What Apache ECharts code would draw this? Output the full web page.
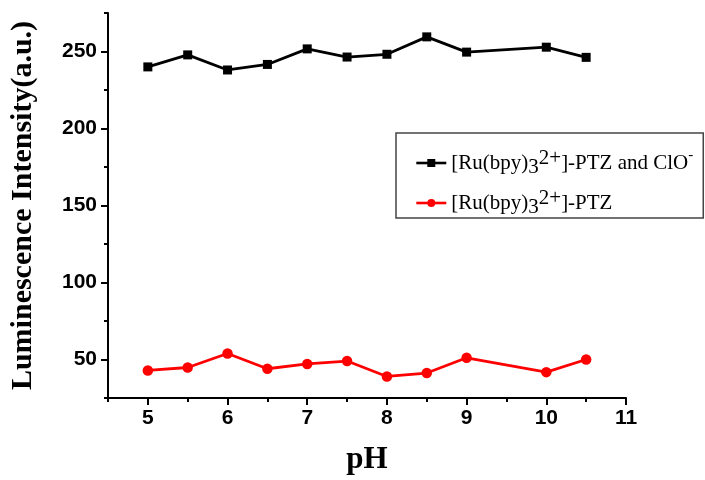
<!DOCTYPE html>
<html>
<head>
<meta charset="utf-8">
<script src="https://cdn.jsdelivr.net/npm/echarts@6/dist/echarts.min.js"></script>
<style>
  html, body { margin: 0; padding: 0; background: #fff; }
  #chart { width: 705px; height: 480px; }
</style>
</head>
<body>
<div id="chart"></div>
<script>
// pH values measured
const phValues = [5, 5.5, 6, 6.5, 7, 7.5, 8, 8.5, 9, 10, 10.5];
// Luminescence intensity with the probe plus hypochlorite
const withClO = [240, 247.8, 238, 241.6, 251.7, 246.4, 248.2, 259.5, 249.6, 252.8, 246.2];
// Luminescence intensity of the probe alone
const probeOnly = [42.9, 44.8, 53.9, 44.0, 47.1, 49.0, 39.0, 41.2, 51.1, 41.8, 50.0];

// Axis ticks
const xMajor = [5, 6, 7, 8, 9, 10, 11];
const xMinor = [4.5, 5.5, 6.5, 7.5, 8.5, 9.5, 10.5];
const yMajor = [50, 100, 150, 200, 250];
const yMinor = [25, 75, 125, 175, 225, 275];

const nameClO = '[Ru(bpy)3 2+]-PTZ and ClO-';
const nameProbe = '[Ru(bpy)3 2+]-PTZ';

const legendLabels = {};
legendLabels[nameClO] = '{n|[Ru(bpy)}{sub|3}{sup|2+}{n|]-PTZ and ClO}{sm|-}';
legendLabels[nameProbe] = '{n|[Ru(bpy)}{sub|3}{sup|2+}{n|]-PTZ}';

const serif = '"Liberation Serif", "Times New Roman", serif';
const sans = '"Liberation Sans", Arial, sans-serif';

const pairs = (ys) => phValues.map((x, i) => [x, ys[i]]);

const chart = echarts.init(document.getElementById('chart'));

const axisLineStyle = { color: '#000', width: 2 };

chart.setOption({
  animation: false,
  backgroundColor: '#fff',
  grid: { left: 107, right: 79, top: 13, bottom: 80 },
  legend: {
    orient: 'vertical',
    left: 396,
    top: 133,
    padding: [15, 10, 0, 19],
    itemGap: 10,
    itemWidth: 30,
    itemHeight: 10,
    borderColor: '#444',
    borderWidth: 1.5,
    lineStyle: { width: 2.6 },
    data: [nameClO, nameProbe],
    formatter: (name) => legendLabels[name],
    textStyle: {
      rich: {
        n: { fontFamily: serif, fontSize: 21, color: '#000', lineHeight: 30, verticalAlign: 'middle' },
        sub: { fontFamily: serif, fontSize: 21, color: '#000', lineHeight: 12, verticalAlign: 'bottom' },
        sup: { fontFamily: serif, fontSize: 21, color: '#000', lineHeight: 16, verticalAlign: 'top' },
        sm: { fontFamily: serif, fontSize: 15, color: '#000', lineHeight: 14, verticalAlign: 'top' }
      }
    }
  },
  xAxis: [
    {
      type: 'value',
      min: 4.5,
      max: 11,
      interval: 0.5,
      name: 'pH',
      nameLocation: 'middle',
      nameGap: 46,
      nameTextStyle: { fontFamily: serif, fontWeight: 'bold', fontSize: 31, color: '#000' },
      axisLine: { show: true, lineStyle: axisLineStyle },
      axisTick: { show: true, length: 7, customValues: xMajor, lineStyle: { color: '#000', width: 2 } },
      axisLabel: { customValues: xMajor, margin: 10, fontFamily: sans, fontWeight: 'bold', fontSize: 21, color: '#000' },
      splitLine: { show: false }
    },
    {
      type: 'value',
      position: 'bottom',
      min: 4.5,
      max: 11,
      interval: 0.5,
      axisLine: { show: false },
      axisTick: { show: true, length: 4, customValues: xMinor, lineStyle: { color: '#000', width: 2 } },
      axisLabel: { show: false },
      splitLine: { show: false }
    }
  ],
  yAxis: [
    {
      type: 'value',
      min: 25,
      max: 275,
      interval: 25,
      name: 'Luminescence Intensity(a.u.)',
      nameLocation: 'middle',
      nameGap: 70,
      nameTextStyle: { fontFamily: serif, fontWeight: 'bold', fontSize: 30, color: '#000' },
      axisLine: { show: true, lineStyle: axisLineStyle },
      axisTick: { show: true, length: 7, customValues: yMajor, lineStyle: { color: '#000', width: 2 } },
      axisLabel: { customValues: yMajor, margin: 11, fontFamily: sans, fontWeight: 'bold', fontSize: 21, color: '#000' },
      splitLine: { show: false }
    },
    {
      type: 'value',
      position: 'left',
      min: 25,
      max: 275,
      interval: 25,
      axisLine: { show: false },
      axisTick: { show: true, length: 4, customValues: yMinor, lineStyle: { color: '#000', width: 2 } },
      axisLabel: { show: false },
      splitLine: { show: false }
    }
  ],
  series: [
    {
      name: nameClO,
      type: 'line',
      xAxisIndex: 0,
      yAxisIndex: 0,
      data: pairs(withClO),
      symbol: 'rect',
      symbolSize: 9,
      itemStyle: { color: '#000' },
      lineStyle: { color: '#000', width: 2.8 }
    },
    {
      name: nameProbe,
      type: 'line',
      xAxisIndex: 0,
      yAxisIndex: 0,
      data: pairs(probeOnly),
      symbol: 'circle',
      symbolSize: 10.5,
      itemStyle: { color: '#ff0000' },
      lineStyle: { color: '#ff0000', width: 2.8 }
    }
  ]
});
</script>
</body>
</html>
